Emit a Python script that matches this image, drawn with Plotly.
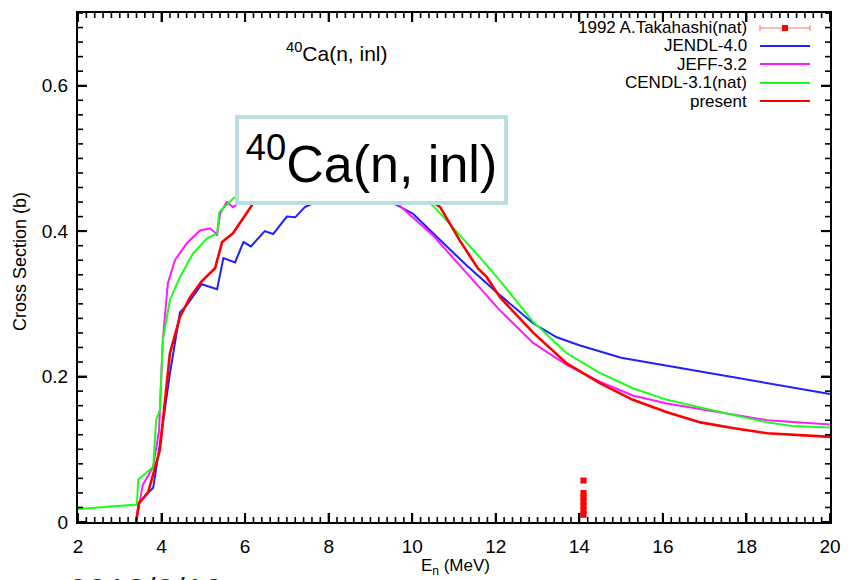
import plotly.graph_objects as go

# ---------------- data ----------------
jendl_x = [3.39, 3.46, 3.68, 3.80, 3.94, 4.20, 4.44, 4.60, 4.96, 5.33, 5.48, 5.76, 5.96, 6.14,
           6.47, 6.67, 7.00, 7.20, 7.43, 7.70, 8.00, 8.50, 9.00, 9.50, 10.02, 10.5, 11.3, 12.1,
           12.9, 13.46, 14.0, 15.0, 17.5, 20.0]
jendl_y = [0.0, 0.026, 0.040, 0.047, 0.099, 0.204, 0.288, 0.298, 0.327, 0.320, 0.363, 0.357, 0.385, 0.379,
           0.400, 0.396, 0.420, 0.419, 0.433, 0.440, 0.448, 0.452, 0.450, 0.440, 0.424, 0.397, 0.353, 0.312,
           0.273, 0.254, 0.243, 0.226, 0.201, 0.176]

jeff_x = [3.39, 3.48, 3.55, 3.80, 3.94, 4.03, 4.15, 4.32, 4.60, 4.92, 5.16, 5.28, 5.33, 5.40, 5.56,
          5.71, 6.00, 6.50, 7.00, 8.00, 8.50, 9.00, 9.54, 9.70, 10.5, 11.3, 12.1, 12.9, 13.7, 14.49,
          15.28, 16.1, 16.9, 17.7, 18.5, 20.0]
jeff_y = [0.0, 0.030, 0.051, 0.076, 0.126, 0.250, 0.328, 0.360, 0.383, 0.401, 0.404, 0.398, 0.394, 0.424, 0.440,
          0.433, 0.445, 0.455, 0.460, 0.465, 0.463, 0.455, 0.440, 0.435, 0.394, 0.342, 0.291, 0.246, 0.216, 0.193,
          0.174, 0.163, 0.155, 0.147, 0.140, 0.134]

cendl_x = [2.0, 3.41, 3.44, 3.80, 3.87, 3.96, 4.03, 4.20, 4.44, 4.75, 5.09, 5.33, 5.38, 5.64, 5.71,
           6.00, 6.50, 7.00, 8.00, 9.00, 9.50, 10.0, 10.5, 11.62, 12.1, 12.9, 13.7, 14.49, 15.28, 16.1,
           16.9, 17.7, 18.5, 19.1, 20.0]
cendl_y = [0.018, 0.024, 0.058, 0.076, 0.140, 0.154, 0.250, 0.305, 0.337, 0.369, 0.390, 0.397, 0.426, 0.440, 0.445,
           0.455, 0.465, 0.470, 0.475, 0.470, 0.462, 0.452, 0.435, 0.364, 0.332, 0.275, 0.232, 0.205, 0.184, 0.168,
           0.157, 0.147, 0.137, 0.132, 0.130]

present_x = [3.39, 3.46, 3.68, 3.96, 4.20, 4.44, 4.68, 4.96, 5.28, 5.45, 5.71, 6.12, 6.19, 6.50, 7.00,
             7.50, 8.00, 8.50, 9.00, 9.50, 10.0, 10.3, 10.67, 11.14, 11.57, 11.78, 12.1, 12.9, 13.7, 14.49,
             15.28, 16.1, 16.9, 17.7, 18.5, 20.0]
present_y = [0.0, 0.026, 0.041, 0.099, 0.232, 0.282, 0.309, 0.331, 0.349, 0.385, 0.397, 0.431, 0.438, 0.455, 0.470,
             0.480, 0.485, 0.487, 0.485, 0.475, 0.460, 0.448, 0.433, 0.387, 0.349, 0.337, 0.309, 0.260, 0.218, 0.191,
             0.168, 0.151, 0.137, 0.129, 0.122, 0.117]

exp_x = [14.1, 14.1, 14.1, 14.1, 14.1, 14.1, 14.1]
exp_y = [0.057, 0.040, 0.034, 0.028, 0.022, 0.016, 0.010]
exp_dy = [0.002, 0.002, 0.002, 0.002, 0.002, 0.002, 0.002]
exp_dx = [0.05, 0.05, 0.05, 0.05, 0.05, 0.05, 0.05]

x_range = [2, 20]
y_range = [0, 0.7]
x_major, x_minor = 2, 0.2
y_major, y_minor = 0.2, 0.02

legend_names = ["1992 A.Takahashi(nat)", "JENDL-4.0", "JEFF-3.2", "CENDL-3.1(nat)", "present"]
legend_colors = ["#ff0000", "#1f1fff", "#ff1aff", "#1aff1a", "#ff0000"]

FONT = "Liberation Sans, Arial, sans-serif"

fig = go.Figure()
series = [(jendl_x, jendl_y, legend_colors[1], 2),
          (jeff_x, jeff_y, legend_colors[2], 2),
          (cendl_x, cendl_y, legend_colors[3], 2),
          (present_x, present_y, legend_colors[4], 2.6)]
for xs, ys, c, w in series:
    fig.add_trace(go.Scatter(x=xs, y=ys, mode="lines", line=dict(color=c, width=w),
                             showlegend=False, hoverinfo="skip"))

fig.add_trace(go.Scatter(x=exp_x, y=exp_y, mode="markers",
                         marker=dict(symbol="square", size=6, color="#ff0000"),
                         error_y=dict(type="data", array=exp_dy, color="#ff6060", thickness=1, width=3),
                         error_x=dict(type="data", array=exp_dx, color="#ff6060", thickness=1, width=3),
                         showlegend=False, hoverinfo="skip"))

# plot area in pixels: x 78..830, y 13..522
L, R, T, B = 78, 20, 13, 58
W, H = 850 - L - R, 580 - T - B

def px2x(p):
    return (p - L) / W

def py2y(p):
    return (580 - B - p) / H

annotations = []
shapes = []

# ---- tick marks on all four sides (gnuplot style, pointing inward) ----
def tick_values(lo, hi, step):
    n = int(round((hi - lo) / step))
    return [lo + k * step for k in range(n + 1)]

MAJ_LEN, MIN_LEN = 9, 5
for v in tick_values(x_range[0], x_range[1], x_minor):
    is_major = abs((v - x_range[0]) / x_major - round((v - x_range[0]) / x_major)) < 1e-6
    ln = (MAJ_LEN if is_major else MIN_LEN) / H
    wd = 2 if is_major else 1.6
    shapes.append(dict(type="line", xref="x", yref="paper", x0=v, x1=v, y0=0, y1=ln,
                       line=dict(color="#000", width=wd), layer="above"))
    shapes.append(dict(type="line", xref="x", yref="paper", x0=v, x1=v, y0=1, y1=1 - ln,
                       line=dict(color="#000", width=wd), layer="above"))
for v in tick_values(y_range[0], y_range[1], y_minor):
    is_major = abs(v / y_major - round(v / y_major)) < 1e-6
    ln = (MAJ_LEN if is_major else MIN_LEN) / W
    wd = 2 if is_major else 1.6
    shapes.append(dict(type="line", xref="paper", yref="y", x0=0, x1=ln, y0=v, y1=v,
                       line=dict(color="#000", width=wd), layer="above"))
    shapes.append(dict(type="line", xref="paper", yref="y", x0=1, x1=1 - ln, y0=v, y1=v,
                       line=dict(color="#000", width=wd), layer="above"))

# custom legend: text right-aligned, sample on right
rows = [28, 46, 64, 83, 101]
for i, (name, col) in enumerate(zip(legend_names, legend_colors)):
    yy = py2y(rows[i])
    annotations.append(dict(xref="paper", yref="paper", x=px2x(749), y=yy, text=name,
                            xanchor="right", yanchor="middle", showarrow=False,
                            font=dict(family=FONT, size=17, color="#000")))
    if i == 0:
        shapes.append(dict(type="line", xref="paper", yref="paper", x0=px2x(760), x1=px2x(810),
                           y0=yy, y1=yy, line=dict(color="#ff7070", width=1)))
        for cx in (760, 810):
            shapes.append(dict(type="line", xref="paper", yref="paper", x0=px2x(cx), x1=px2x(cx),
                               y0=yy - 3 / H, y1=yy + 3 / H, line=dict(color="#ff7070", width=1)))
        shapes.append(dict(type="rect", xref="paper", yref="paper", x0=px2x(782), x1=px2x(788),
                           y0=yy - 3 / H, y1=yy + 3 / H, line=dict(width=0), fillcolor="#ff0000"))
    else:
        shapes.append(dict(type="line", xref="paper", yref="paper", x0=px2x(760), x1=px2x(810),
                           y0=yy, y1=yy, line=dict(color=col, width=2)))

# small title inside plot
annotations.append(dict(xref="paper", yref="paper", x=px2x(337), y=py2y(52),
                        text="<sup>40</sup>Ca(n, inl)", showarrow=False,
                        xanchor="center", yanchor="middle",
                        font=dict(family=FONT, size=21, color="#000")))

# big boxed label
annotations.append(dict(xref="paper", yref="paper", x=px2x(371.5), y=py2y(160),
                        text="<sup>40</sup>Ca(n, inl)", showarrow=False,
                        xanchor="center", yanchor="middle",
                        bgcolor="#ffffff", bordercolor="#b9dde1", borderwidth=4, borderpad=4,
                        width=257, height=74,
                        font=dict(family=FONT, size=52, color="#000")))

# axis titles
annotations.append(dict(xref="paper", yref="paper", x=px2x(455), y=py2y(567),
                        text="E<sub>n</sub> (MeV)", showarrow=False,
                        xanchor="center", yanchor="middle",
                        font=dict(family=FONT, size=17, color="#000")))
annotations.append(dict(xref="paper", yref="paper", x=px2x(20), y=py2y(262),
                        text="Cross Section (b)", showarrow=False, textangle=-90,
                        xanchor="center", yanchor="middle",
                        font=dict(family=FONT, size=18, color="#000")))

# cut-off date text at the bottom
annotations.append(dict(xref="paper", yref="paper", x=px2x(66), y=py2y(569),
                        text="2018/3/19", showarrow=False, xanchor="left", yanchor="top",
                        font=dict(family=FONT, size=35, color="#222")))

axis_common = dict(showline=True, linecolor="#000", linewidth=2, mirror="allticks",
                   ticks="inside", ticklen=9, tickwidth=2, tickcolor="#000",
                   showgrid=False, zeroline=False, tickmode="linear", automargin=False,
                   tickfont=dict(family=FONT, size=19, color="#000"))

fig.update_layout(
    width=850, height=580,
    margin=dict(l=L, r=R, t=T, b=B),
    paper_bgcolor="#ffffff", plot_bgcolor="#ffffff",
    xaxis=dict(range=x_range, tick0=x_range[0], dtick=x_major, ticklabelstandoff=6, **axis_common),
    yaxis=dict(range=y_range, tick0=0, dtick=y_major, ticklabelstandoff=4, **axis_common),
    annotations=annotations,
    shapes=shapes,
)

fig.write_html("out.html")
